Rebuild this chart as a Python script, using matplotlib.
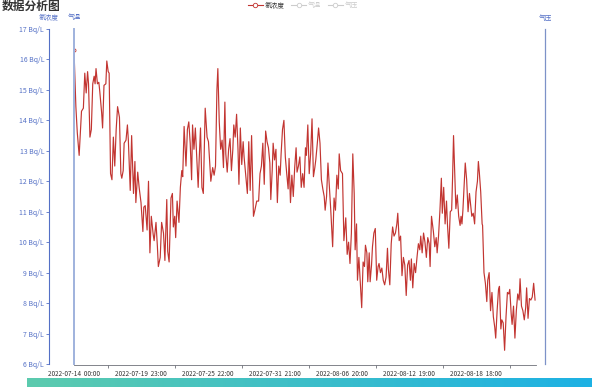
import pandas as pd
import numpy as np
import matplotlib
matplotlib.use("Agg")
import matplotlib.pyplot as plt
from matplotlib.lines import Line2D
from matplotlib.colors import LinearSegmentedColormap

plt.rcParams['font.family'] = ['Noto Sans CJK SC', 'DejaVu Sans']

# hours since 2022-07-14 00:00, radon concentration (Bq/L)
hours = [0, 4, 7, 11, 16, 20, 23, 26, 29, 31,
         34, 37, 40, 43, 45, 47, 50, 53, 55, 59,
         61, 64, 68, 70, 73, 75, 78, 81, 84, 87,
         90, 93, 97, 100, 102, 105, 107, 111, 114, 116,
         120, 123, 127, 130, 132, 136, 139, 143, 147, 149,
         152, 156, 159, 162, 165, 169, 171, 175, 178, 180,
         184, 187, 191, 194, 198, 200, 203, 207, 210, 212,
         215, 217, 220, 224, 227, 230, 232, 235, 239, 242,
         245, 248, 251, 253, 256, 259, 262, 265, 267, 270,
         273, 276, 280, 284, 287, 292, 296, 299, 302, 305,
         307, 310, 313, 316, 319, 322, 324, 327, 330, 333,
         336, 339, 341, 344, 347, 350, 352, 355, 358, 361,
         363, 367, 370, 373, 376, 379, 383, 386, 390, 394,
         397, 400, 403, 406, 409, 412, 415, 418, 420, 423,
         425, 428, 431, 434, 437, 440, 442, 445, 448, 451,
         454, 457, 459, 462, 465, 468, 471, 474, 476, 479,
         482, 485, 488, 491, 494, 496, 499, 502, 505, 508,
         511, 514, 516, 519, 522, 525, 528, 531, 534, 536,
         539, 542, 545, 548, 552, 555, 558, 561, 564, 566,
         569, 573, 576, 580, 583, 586, 589, 592, 595, 598,
         600, 603, 605, 608, 611, 614, 617, 620, 622, 625,
         627, 630, 632, 635, 637, 640, 643, 646, 649, 651,
         654, 657, 660, 663, 666, 669, 671, 674, 677, 680,
         683, 686, 689, 691, 694, 697, 700, 703, 706, 709,
         712, 715, 718, 720, 723, 726, 729, 732, 735, 738,
         740, 743, 746, 749, 752, 755, 758, 760, 763, 767,
         770, 773, 775, 778, 781, 784, 786, 789, 792, 795,
         797, 800, 803, 806, 808, 810, 813, 815, 818, 821,
         824, 826, 828, 830, 832, 835, 838, 841, 844, 847,
         849, 852, 855, 858, 861, 863, 865, 868, 871, 872,
         875, 878, 881, 883, 886, 889, 892, 895, 898, 900,
         903, 906, 908, 911, 913, 916, 919, 922, 925, 928,
         930, 933, 935, 938, 941, 944, 947, 950, 952, 955,
         958, 961, 964, 966, 969, 972, 975, 978, 981, 984]

radon = [16.3, 14.45, 13.6, 12.85, 14.3, 14.4, 15.55, 14.9, 15.6, 15.2,
         13.45, 13.7, 15.2, 15.45, 15.2, 15.7, 15.2, 15.25, 14.95, 14.25,
         13.75, 15.15, 15.2, 15.95, 15.6, 15.55, 12.25, 12.05, 13.45, 12.5,
         13.7, 14.45, 14.1, 12.25, 12.1, 12.35, 13.25, 13.35, 13.85, 13.35,
         11.7, 13.5, 11.6, 12.65, 11.3, 12.3, 11.8, 11.3, 10.35, 11.15,
         11.2, 10.4, 12.0, 9.65, 10.85, 10.25, 10.05, 10.65, 9.85, 9.2,
         9.5, 10.65, 10.3, 9.4, 11.4, 9.7, 9.35, 11.45, 11.6, 10.5,
         10.85, 10.15, 11.35, 10.65, 11.8, 12.35, 12.15, 13.8, 12.5, 13.7,
         13.95, 13.25, 12.05, 13.85, 13.05, 13.75, 12.75, 11.8, 12.65, 13.75,
         11.8, 11.6, 14.4, 13.45, 13.3, 12.0, 12.45, 12.2, 12.5, 15.0,
         15.7, 13.95, 13.05, 13.35, 12.45, 14.6, 12.9, 12.3, 13.05, 13.4,
         12.35, 13.05, 13.85, 13.45, 14.2, 13.05, 11.9, 13.75, 12.55, 13.3,
         12.8, 12.1, 11.6, 13.3, 11.7, 13.5, 10.85, 11.05, 11.35, 11.35,
         12.25, 12.5, 13.25, 11.9, 13.65, 13.3, 13.1, 12.6, 11.4, 12.35,
         13.25, 12.7, 13.05, 11.3, 12.5, 12.2, 12.9, 13.7, 14.0, 12.8,
         12.25, 11.75, 12.75, 11.3, 12.2, 11.5, 12.45, 13.1, 12.3, 12.5,
         12.8, 11.8, 12.25, 11.8, 13.1, 12.85, 13.85, 12.25, 12.9, 14.05,
         12.15, 12.45, 12.7, 13.2, 13.75, 13.25, 12.05, 11.75, 11.5, 11.05,
         11.5, 12.6, 11.8, 11.05, 9.85, 11.45, 11.05, 12.2, 11.75, 12.9,
         12.35, 12.25, 10.05, 10.8, 9.6, 10.0, 9.3, 10.3, 12.9, 11.6,
         9.75, 10.6, 8.75, 9.5, 8.65, 7.85, 9.35, 9.2, 9.9, 9.65,
         8.7, 9.65, 8.7, 9.25, 9.85, 10.3, 10.45, 8.75, 9.2, 9.3,
         9.0, 9.15, 8.75, 8.6, 8.85, 9.8, 9.1, 8.6, 9.95, 10.5,
         10.2, 10.3, 10.6, 10.95, 10.05, 10.2, 8.9, 9.5, 9.25, 8.25,
         9.25, 9.4, 8.75, 9.45, 8.5, 9.3, 9.0, 9.5, 9.95, 9.75,
         10.2, 9.65, 10.3, 10.0, 9.5, 10.15, 9.95, 9.2, 10.85, 10.35,
         9.85, 10.15, 9.65, 10.2, 11.05, 12.1, 10.95, 11.8, 10.6, 11.35,
         10.6, 9.8, 11.0, 11.05, 12.15, 13.5, 12.1, 11.1, 11.55, 10.85,
         10.55, 10.85, 10.6, 11.05, 11.7, 12.6, 12.05, 11.0, 11.6, 11.15,
         10.85, 10.95, 10.6, 11.65, 12.0, 12.65, 12.3, 11.65, 10.6, 10.55,
         9.0, 8.65, 8.05, 8.75, 9.0, 7.75, 8.35, 7.55, 7.2, 6.85,
         7.75, 8.45, 8.55, 7.15, 7.45, 7.35, 6.45, 7.55, 8.35, 8.3,
         8.45, 7.65, 7.3, 7.9, 6.85, 7.75, 8.3, 8.1, 8.8, 7.9,
         7.75, 7.45, 7.85, 8.5, 7.5, 8.15, 8.1, 8.2, 8.65, 8.1]

times = pd.date_range('2022-07-14 00:00', periods=987, freq='h')
label_step = 143
legend_names = ['氡浓度', '气温', '气压']

red = '#c23531'
blue = '#5470c6'
gray = '#6e7079'

fig = plt.figure(figsize=(5.92, 3.90), dpi=100)
ax = fig.add_axes([74 / 592, 1 - 364 / 390, 462 / 592, 335 / 390])

ax.plot(hours, radon, color=red, lw=0.85)
ax.plot(hours[:1], radon[:1], marker='o', ms=2.2, mfc='white', mec=red, mew=0.6)

ax.set_xlim(0, len(times) - 1)
ax.set_ylim(6, 17)

# radon y axis (left, pushed outward)
ax.spines['left'].set_position(('outward', 18))
ax.spines['left'].set_color(blue)
ax.spines['left'].set_linewidth(0.8)
ax.set_yticks(range(6, 18))
ax.set_yticklabels([f'{v} Bq/L' for v in range(6, 18)])
ax.tick_params(axis='y', colors=blue, labelsize=5.0, length=2.5, width=0.6, pad=1)

# x axis
lab_pos = list(range(0, len(times), label_step))
ax.set_xticks(lab_pos)
ax.set_xticklabels([times[i].strftime('%Y-%m-%d  %H:%M') for i in lab_pos])
ax.set_xticks([p + label_step / 2 for p in lab_pos if p + label_step / 2 < len(times)], minor=True)
ax.tick_params(axis='x', which='major', length=0, labelsize=4.6, labelcolor='#333333', pad=3)
ax.tick_params(axis='x', which='minor', length=2.5, width=0.6, color=gray)
ax.spines['bottom'].set_color(gray)
ax.spines['bottom'].set_linewidth(0.6)
ax.spines['bottom'].set_position(('outward', 1))
ax.spines['top'].set_visible(False)
ax.spines['right'].set_visible(False)

# temperature axis (empty)
ax2 = ax.twinx()
ax2.spines['left'].set_visible(True)
ax2.spines['left'].set_color('#9fb2dd')
ax2.spines['left'].set_linewidth(1.4)
for s in ['right', 'top', 'bottom']:
    ax2.spines[s].set_visible(False)
ax2.set_yticks([])

# pressure axis (empty)
ax3 = ax.twinx()
ax3.spines['right'].set_position(('outward', 6.5))
ax3.spines['right'].set_color('#7d92c8')
ax3.spines['right'].set_linewidth(0.9)
for s in ['left', 'top', 'bottom']:
    ax3.spines[s].set_visible(False)
ax3.set_yticks([])

# axis names
fig.text(49 / 592, 1 - 17 / 390, legend_names[0], color=blue, fontsize=4.8, ha='center', va='center')
fig.text(74 / 592, 1 - 17 / 390, legend_names[1], color=blue, fontsize=4.8, ha='center', va='center')
fig.text(545 / 592, 1 - 18 / 390, legend_names[2], color=blue, fontsize=4.8, ha='center', va='center')

# title
fig.text(2 / 592, 1 - 6 / 390, '数据分析图', fontsize=8.5, fontweight='bold', color='#333333', va='center')

# legend
handles = [Line2D([], [], color=red, lw=0.8, marker='o', ms=3.2, mfc='white', mec=red, mew=0.6),
           Line2D([], [], color='#cccccc', lw=0.8, marker='o', ms=3.2, mfc='white', mec='#cccccc', mew=0.6),
           Line2D([], [], color='#cccccc', lw=0.8, marker='o', ms=3.2, mfc='white', mec='#cccccc', mew=0.6)]
leg = fig.legend(handles, legend_names, loc='center', bbox_to_anchor=(303 / 592, 1 - 5 / 390), ncol=3,
                 frameon=False, fontsize=4.8, handlelength=2.2, handletextpad=0.3, columnspacing=1.0,
                 borderpad=0)
for t, c in zip(leg.get_texts(), ['#333333', '#cccccc', '#cccccc']):
    t.set_color(c)

# data zoom bar at the bottom
bar = fig.add_axes([27 / 592, 1 - 387 / 390, 565 / 592, 9 / 390])
grad = np.linspace(0, 1, 256).reshape(1, -1)
cmap = LinearSegmentedColormap.from_list('dz', ['#5ccbae', '#1db1e4'])
bar.imshow(grad, aspect='auto', cmap=cmap)
bar.axis('off')

fig.savefig('out.png', dpi=100)
